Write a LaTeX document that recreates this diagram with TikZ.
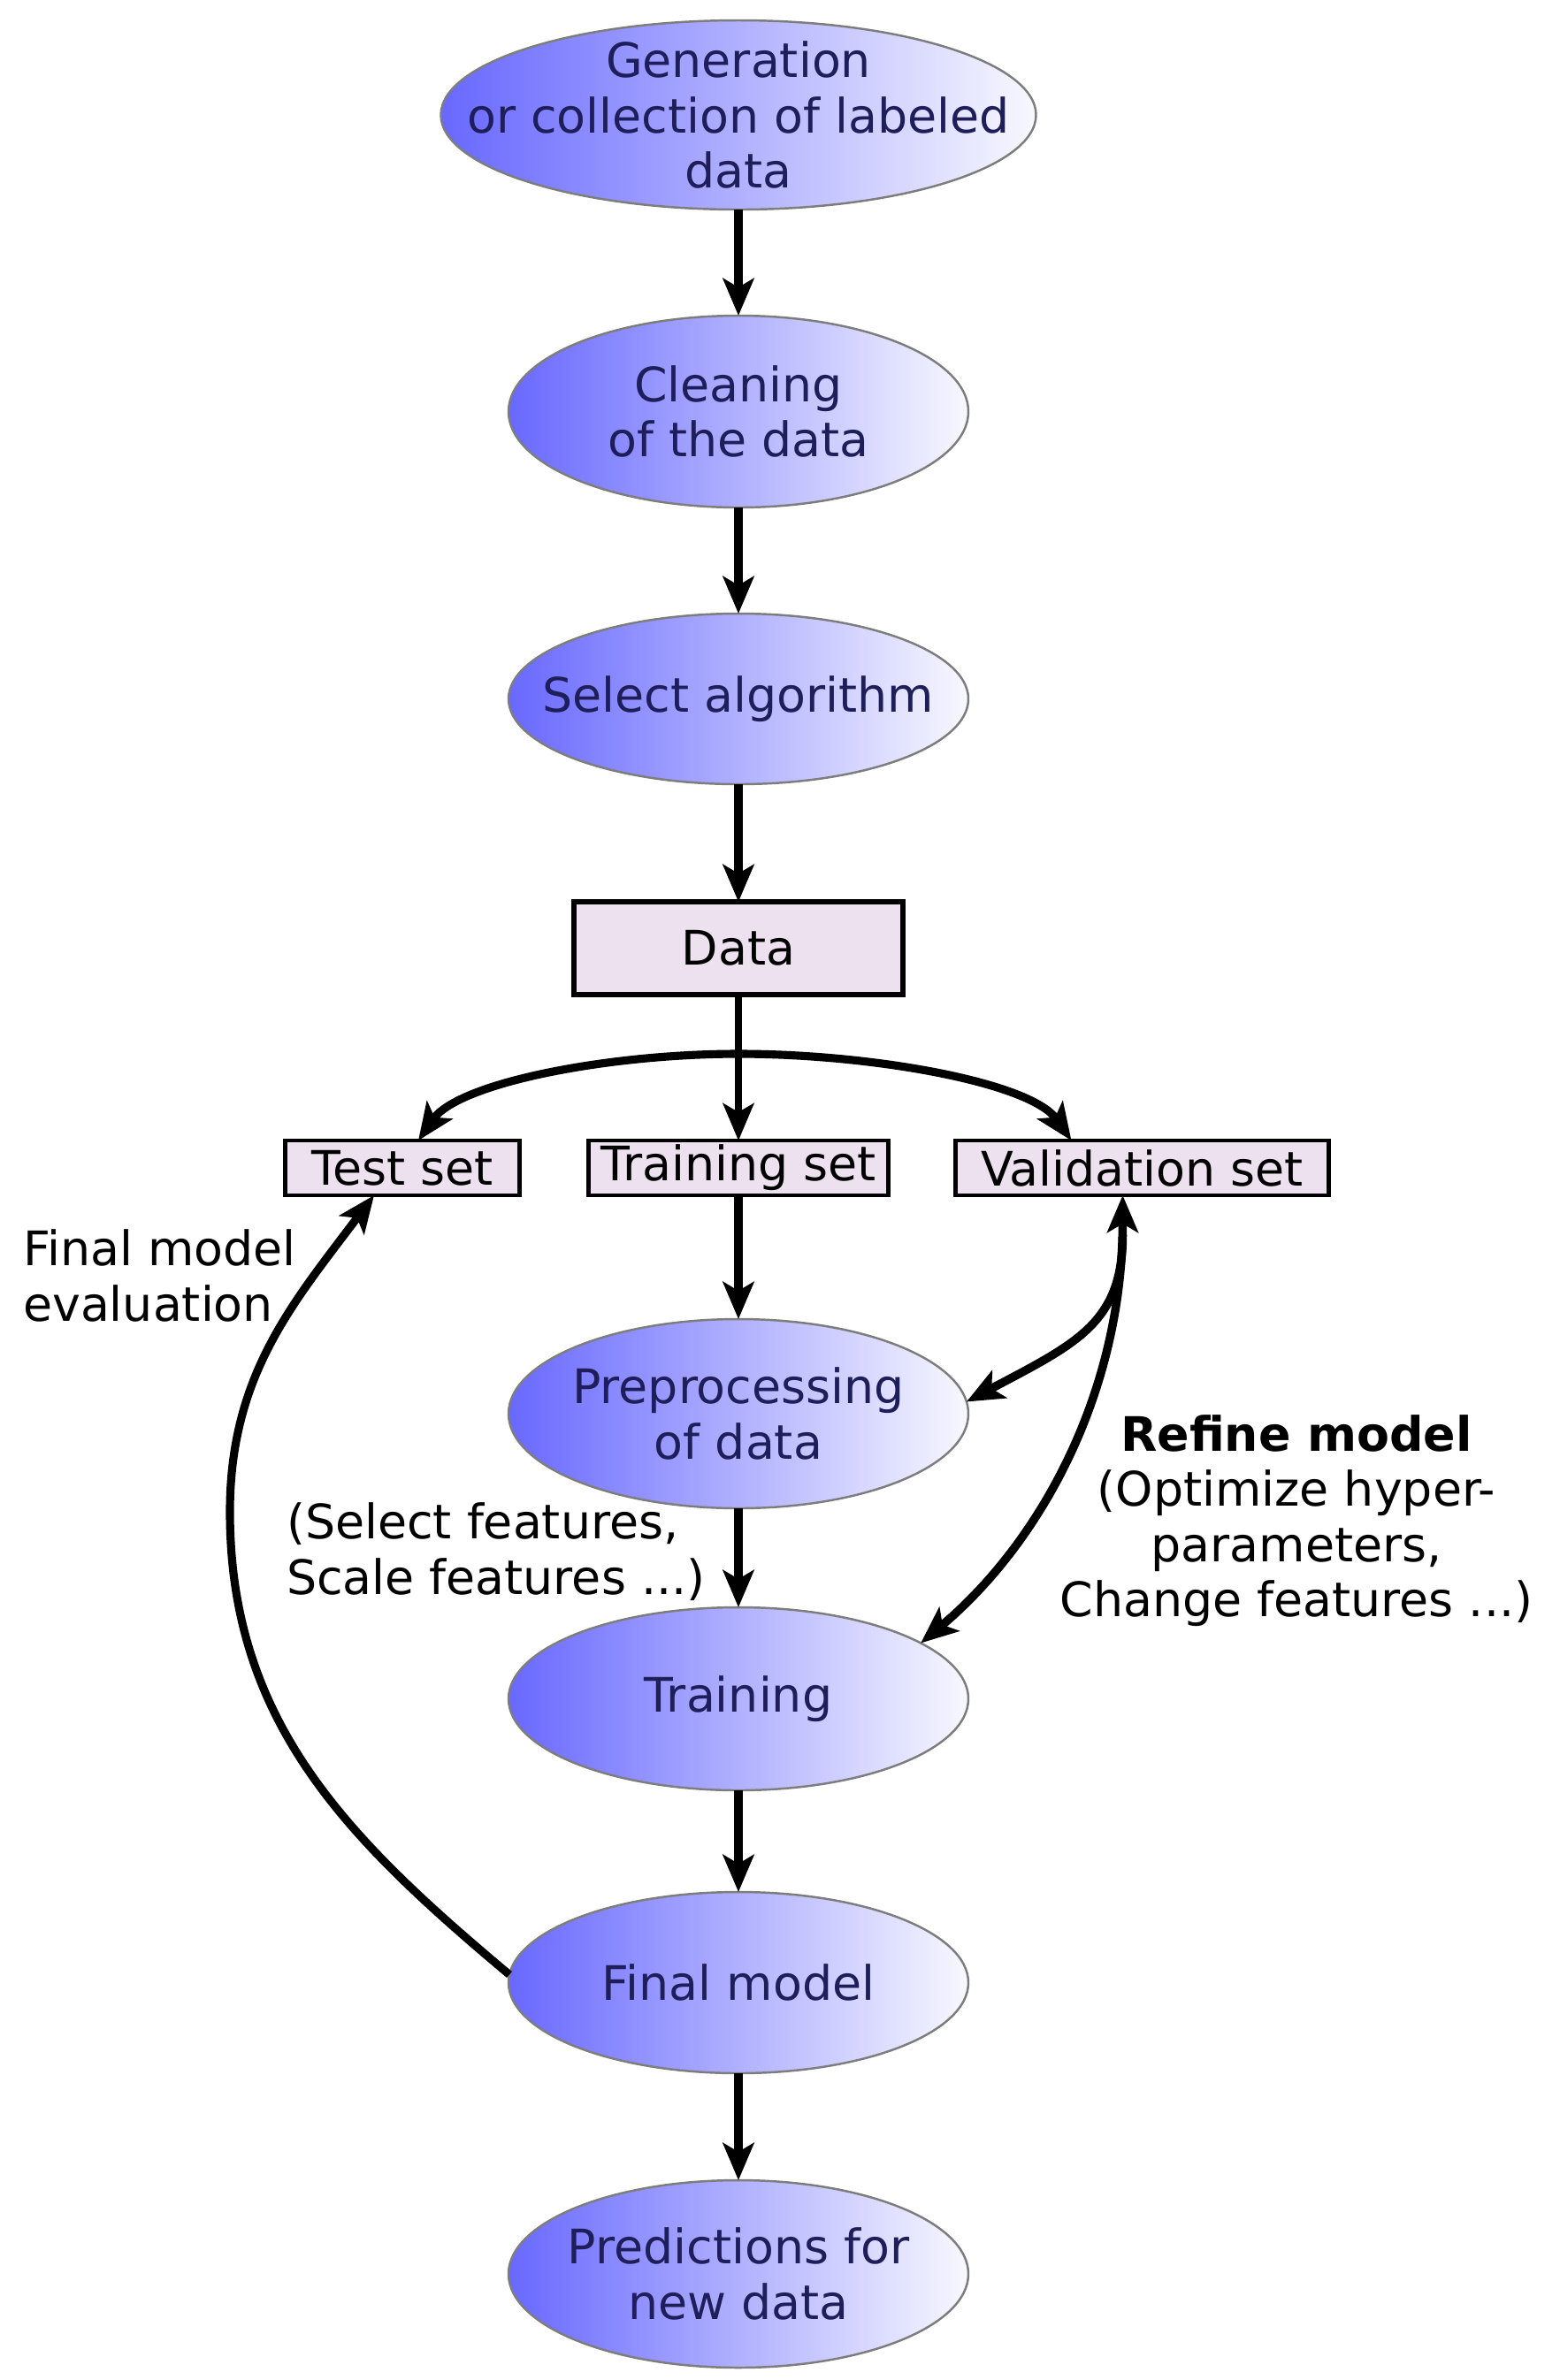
\documentclass[tikz,border=0pt]{standalone}
\usepackage{fontspec}
\setmainfont{DejaVu Sans}
\usepackage{tikz}
\usetikzlibrary{arrows.meta,shapes.geometric,positioning}

\definecolor{procblue}{RGB}{104,104,255}
\definecolor{procwhite}{RGB}{248,248,255}
\definecolor{proctext}{RGB}{30,30,90}
\definecolor{procedge}{RGB}{125,125,125}
\definecolor{setfill}{RGB}{237,225,239}

\begin{document}
\begin{tikzpicture}[->,>={Stealth[length=4.2mm,width=3.5mm,inset=1mm]},
                    line width=2.9pt,
                    font=\fontsize{15.3}{17.8}\selectfont]
  \tikzstyle{proc}=[ellipse,draw=procedge,line width=0.7pt,outer sep=0pt,
                    left color=procblue,right color=procwhite,text=proctext,
                    align=center,inner xsep=-25pt,inner ysep=-15pt,
                    minimum width=5.2cm]
  \tikzstyle{dataset}=[rectangle,draw=black,line width=1.3pt,fill=setfill,
                       outer sep=0pt,inner sep=0pt,minimum height=0.62cm]
  \tikzstyle{note}=[align=left,inner sep=0pt]

  \useasboundingbox (0,0) rectangle (17.64,-26.92);

  \node[proc,minimum width=6.73cm,minimum height=2.14cm] (gen) at (8.35,-1.30)
       {Generation\\or collection of labeled\\data};
  \node[proc,minimum height=2.17cm] (clean) [below=1.2cm of gen] {Cleaning\\of the data};
  \node[proc,minimum height=1.93cm] (select) [below=1.2cm of clean] {Select algorithm};
  \node[dataset,line width=1.6pt,minimum width=3.72cm,minimum height=1.05cm]
       (data) [below=1.33cm of select] {Data};
  \node[dataset,minimum width=3.39cm] (trainset) [below=1.65cm of data] {Training set};
  \node[dataset,minimum width=2.65cm] (test) [left=0.78cm of trainset] {Test set};
  \node[dataset,minimum width=4.22cm] (val) [right=0.76cm of trainset] {Validation set};
  \node[proc,minimum height=2.14cm] (pre) [below=1.4cm of trainset] {Preprocessing\\of data};
  \node[proc,minimum height=2.07cm] (train) [below=1.12cm of pre] {Training};
  \node[proc,minimum height=2.05cm] (final) [below=1.15cm of train] {Final model};
  \node[proc,minimum height=2.12cm] (pred) [below=1.21cm of final] {Predictions for\\new data};

  \node[note,anchor=west] (evalnote) at (0.21,-14.43) {Final model\\evaluation};
  \node[note,anchor=west] (featnote) at (3.19,-17.55) {(Select features,\\Scale features ...)};
  \node[note,align=center] (refnote) at (14.66,-17.20)
       {\textbf{Refine model}\\(Optimize hyper-\\parameters,\\Change features ...)};

  \path (gen) edge (clean)
        (clean) edge (select)
        (select) edge (data)
        (data) edge [line width=2pt] (trainset)
        (trainset) edge (pre)
        (pre) edge (train)
        (train) edge (final)
        (final) edge (pred);

  % split of the data
  \coordinate (split) at (8.35,-11.92);
  \draw[line width=2.6pt] (split) to[out=180,in=55,in distance=0.8cm] ([xshift=0.18cm]test.north);
  \draw[line width=2.6pt] (split) to[out=0,in=125,in distance=0.8cm] ([xshift=-0.8cm]val.north);

  % final model evaluation
  \coordinate (evalbend) at (2.60,-17.1);
  \draw[line width=2.6pt] (final.178) to[out=140,in=-90] (evalbend)
        to[out=90,in=-127] ([xshift=-0.32cm]test.south);

  % refine model
  \draw[<->,line width=2.7pt] (train.17) to[out=40,in=-90,out distance=1.8cm,in distance=2.2cm]
        ([xshift=-0.22cm]val.south);
  \draw[line width=2.7pt] ([xshift=-0.22cm,yshift=-0.45cm]val.south)
        to[out=-90,in=28,out distance=1cm,in distance=1.4cm] (pre.3);
\end{tikzpicture}
\end{document}
